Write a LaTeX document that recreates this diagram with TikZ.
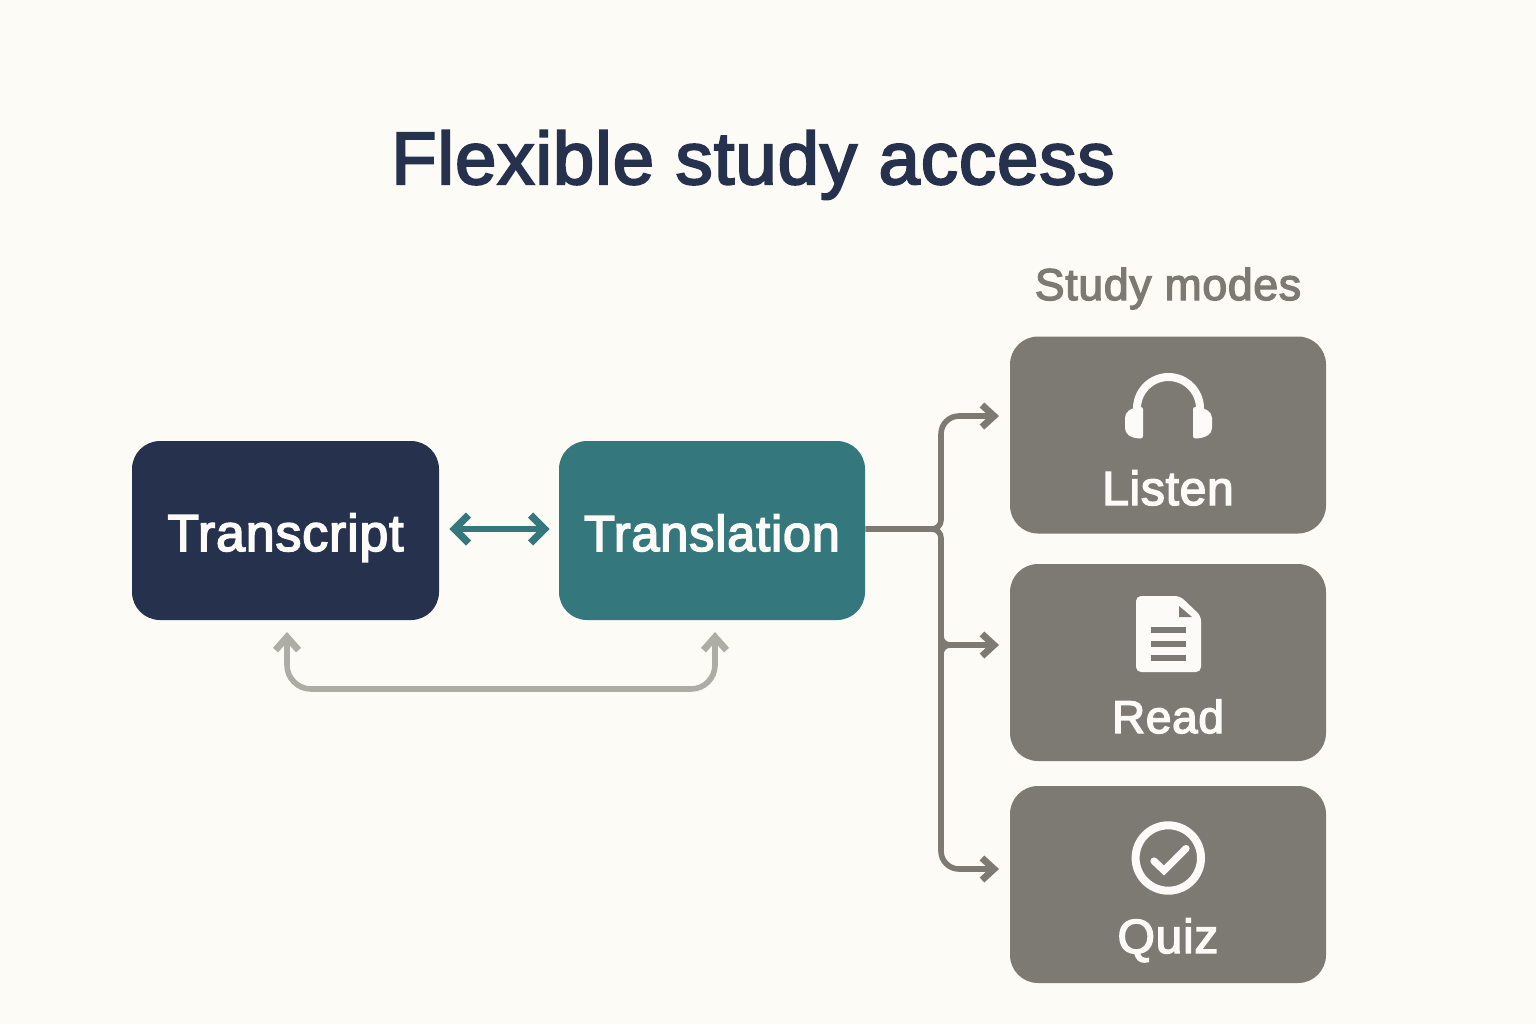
\documentclass[tikz,border=0pt]{standalone}
\usepackage{fontspec}
\setmainfont{Liberation Sans}
\newfontfamily\medfont[FakeBold=3,LetterSpace=1.5]{Liberation Sans}
\usetikzlibrary{arrows.meta,calc}
\definecolor{bgc}{HTML}{FDFBF6}
\definecolor{navy}{HTML}{25314D}
\definecolor{teal2}{HTML}{34787E}
\definecolor{stone}{HTML}{7C7A72}
\definecolor{pale}{HTML}{ADACA5}
\definecolor{ink}{HTML}{FDFBF7}
\tikzset{
  card/.style={rounded corners=14pt,draw=none,inner sep=0pt,text=ink,font=\medfont\fontsize{24}{24}\selectfont,anchor=center},
  flow/.style={minimum width=153.5pt,minimum height=89.5pt},
  mode/.style={minimum width=158pt,minimum height=98.5pt,fill=stone},
  chev/.style={-{Straight Barb[length=6pt,width=11pt,line width=3.4pt]},line width=2.7pt},
  chevb/.style={{Straight Barb[length=7pt,width=14pt,line width=3.6pt]}-{Straight Barb[length=7pt,width=14pt,line width=3.6pt]},line width=2.6pt},
  chevp/.style={{Straight Barb[length=6.5pt,width=11.5pt,line width=3.4pt]}-{Straight Barb[length=6.5pt,width=11.5pt,line width=3.4pt]},line width=2.8pt},
  icon/.style={fill=ink,draw=none},
}
\begin{document}
\begin{tikzpicture}[x=0.5pt,y=-0.5pt]
\useasboundingbox[fill=bgc] (0,0) rectangle (1536,1024);
\node[font=\medfont\fontsize{37}{37}\selectfont,text=navy,anchor=base] (title) at (753,184) {Flexible study access};
\node[font=\medfont\fontsize{22.3}{22.3}\selectfont,text=stone,anchor=base] (modes) at (1168,300) {Study modes};
\node[card,flow,fill=navy,text height=20.5pt,text depth=0pt,font=\medfont\fontsize{26}{26}\selectfont] (transcript) at (285.5,530.5) {Transcript};
\node[card,flow,minimum width=153pt,fill=teal2,text height=20.5pt,text depth=0pt,font=\medfont\fontsize{25.3}{25.3}\selectfont] (translation) at (712,530.5) {Translation};
\node[card,mode,text height=70pt,text depth=0pt] (listen) at (1168,435) {Listen};
\node[card,mode,text height=70.5pt,text depth=0pt,font=\medfont\fontsize{23}{23}\selectfont] (read) at (1168,662.5) {Read};
\node[card,mode,text height=68.5pt,text depth=0pt] (quiz) at (1168,884.5) {Quiz};
% connector end points
\coordinate (stem) at ($(translation.east)+(0,-1.5)$);
\coordinate (listenIn) at (999,416);
\coordinate (readIn) at (999,645);
\coordinate (quizIn) at (999,869);
\coordinate (trunkTop) at (941,416);
\coordinate (trunkMid) at (941,529);
\coordinate (trunkRead) at (941,645);
\coordinate (trunkBot) at (941,869);
\coordinate (lowL) at (287,689);
\coordinate (lowR) at (715,689);
\coordinate (tipL) at (287,632);
\coordinate (tipR) at (715,632);
% teal double arrow
\draw[chevb,draw=teal2] ($(transcript.east)+(10,-1.5)$) -- ($(translation.west)+(-9,-1.5)$);
% pale link
\draw[chevp,draw=pale,rounded corners=12pt] (tipL) -- (lowL) -- (lowR) -- (tipR);
% branching: one path, so that overlaps do not darken
\draw[stone,line width=2.8pt,rounded corners=4.5pt]
  (stem) -- (trunkMid) -- ($(trunkMid)+(0,-40)$)
  (stem) -- (trunkMid) -- ($(trunkMid)+(0,40)$)
  ($(trunkRead)+(0,-40)$) -- (trunkRead) -- ($(trunkRead)+(40,0)$)
  ($(trunkRead)+(0,40)$) -- (trunkRead) -- ($(trunkRead)+(40,0)$)
  [rounded corners=9pt]
  ($(trunkMid)+(0,-20)$) -- (trunkTop) -- ($(trunkTop)+(44,0)$)
  ($(trunkMid)+(0,20)$) -- (trunkBot) -- ($(trunkBot)+(44,0)$);
\draw[chev,stone] ($(trunkTop)+(40,0)$) -- (listenIn);
\draw[chev,stone] ($(trunkRead)+(36,0)$) -- (readIn);
\draw[chev,stone] ($(trunkBot)+(40,0)$) -- (quizIn);
% headphones
\draw[ink,line width=4pt] (1137,412) -- (1137,408.5) arc[start angle=180,end angle=360,radius=31.5] -- (1200,412);
\path[icon] (1143,409) -- (1143,436) .. controls (1143,438) and (1142,438.5) .. (1140,438.5) .. controls (1130,438) and (1125,434) .. (1125,428) -- (1125,418) .. controls (1125,412) and (1130,408) .. (1140,407) .. controls (1142,407) and (1143,407.5) .. (1143,409) -- cycle;
\path[icon] (1193,409) -- (1193,436) .. controls (1193,438) and (1194,438.5) .. (1196,438.5) .. controls (1206,438) and (1212,434) .. (1212,428) -- (1212,418) .. controls (1212,412) and (1206,408) .. (1196,407) .. controls (1194,407) and (1193,407.5) .. (1193,409) -- cycle;
% document
\path[icon,rounded corners=2.5pt] (1136,596) -- (1180,596) -- (1201,616) -- (1201,672) -- (1136,672) -- cycle;
\path[fill=stone] (1179,606) -- (1179,617) -- (1192,617) -- cycle;
\path[fill=stone] (1151,627) rectangle (1186,633);
\path[fill=stone] (1151,641) rectangle (1186,647);
\path[fill=stone] (1151,655) rectangle (1186,661);
% check
\draw[ink,line width=4pt] (1168.3,858) circle[radius=32.7];
\draw[ink,line width=3.6pt,line cap=round,line join=miter] (1154,861) -- (1164,870.5) -- (1186,848.5);
\end{tikzpicture}
\end{document}
